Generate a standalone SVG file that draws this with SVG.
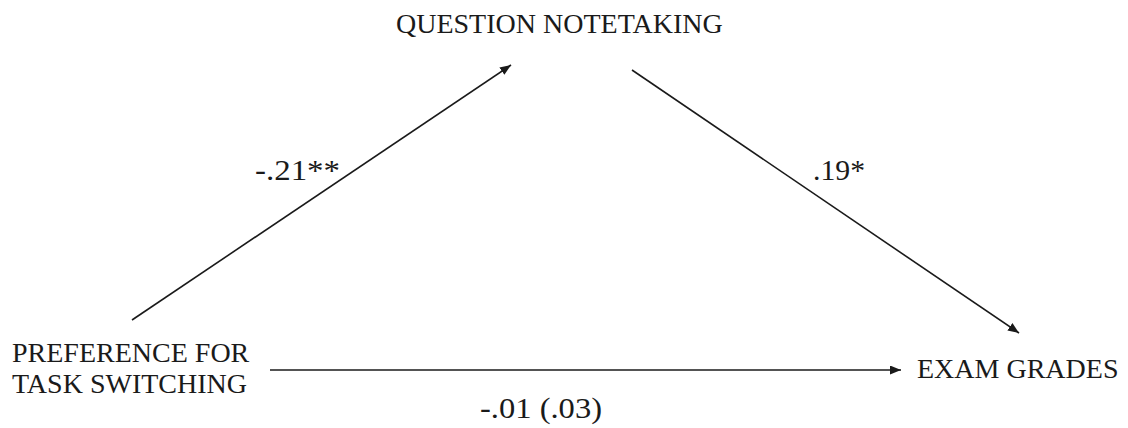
<svg xmlns="http://www.w3.org/2000/svg" width="1128" height="428" viewBox="0 0 1128 428">
<style>
.t{font-family:"Liberation Serif","Times New Roman",serif;font-size:28px;fill:#1a1a1a}
.l{font-family:"Liberation Serif","Times New Roman",serif;font-size:29px;fill:#1a1a1a}
.c{stroke:#1a1a1a;stroke-width:1.6;fill:none}
</style>
<defs>
<marker id="ah" markerUnits="userSpaceOnUse" markerWidth="12" markerHeight="9" refX="11" refY="4.5" orient="auto">
<path d="M0,0 L11,4.5 L0,9 z" fill="#1a1a1a"/>
</marker>
</defs>
<rect width="1128" height="428" fill="#fff"/>
<g id="connectors">
<line class="c" x1="132" y1="320" x2="511" y2="65" marker-end="url(#ah)"/>
<line class="c" x1="632" y1="70" x2="1019" y2="333" marker-end="url(#ah)"/>
<line class="c" x1="270" y1="370" x2="901" y2="370" marker-end="url(#ah)"/>
<text class="l" x="255" y="180" textLength="85" lengthAdjust="spacingAndGlyphs">-.21**</text>
<text class="l" x="813" y="180" textLength="52" lengthAdjust="spacingAndGlyphs">.19*</text>
<text class="l" x="480" y="418" textLength="122" lengthAdjust="spacingAndGlyphs">-.01 (.03)</text>
</g>
<g id="node-question">
<text class="t" x="396" y="33">QUESTION NOTETAKING</text>
</g>
<g id="node-preference">
<text class="t" x="12" y="362">PREFERENCE FOR</text>
<text class="t" x="12" y="393">TASK SWITCHING</text>
</g>
<g id="node-exam">
<text class="t" x="917" y="378">EXAM GRADES</text>
</g>
</svg>
